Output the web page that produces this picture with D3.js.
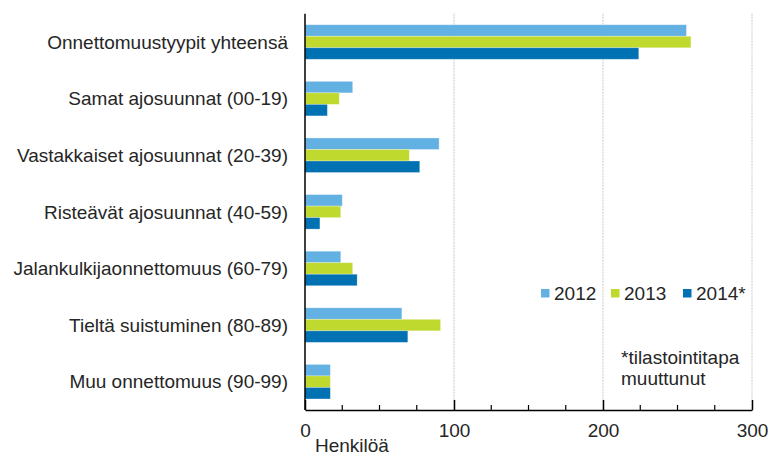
<!DOCTYPE html>
<html><head><meta charset="utf-8">
<script src="https://cdn.jsdelivr.net/npm/d3@7"></script>
<style>body{margin:0;background:#fff}text{font-family:"Liberation Sans",Arial,sans-serif;}</style>
</head><body>
<svg id="c" width="771" height="457"></svg>
<script>
const categories = ["Onnettomuustyypit yhteensä","Samat ajosuunnat (00-19)","Vastakkaiset ajosuunnat (20-39)","Risteävät ajosuunnat (40-59)","Jalankulkijaonnettomuus (60-79)","Tieltä suistuminen (80-89)","Muu onnettomuus (90-99)"];
const seriesNames = ["2012","2013","2014*"];
const values2012 = [256,32,90,25,24,65,17];
const values2013 = [259,23,70,24,32,91,17];
const values2014 = [224,15,77,10,35,69,17];
const xTicks = [0,100,200,300];
const colors = ["#63b1e3","#c0d92f","#0071b2"];

(function(){
const svg = d3.select("#c");
const pL=305, pR=752, pT=13.7, pB=410;
const fs = 19, tc = "#262626";
const x = d3.scaleLinear().domain([0,300]).range([pL,pR]);
const y = d3.scaleBand().domain(categories).range([pT,pB]).paddingInner(0.39).paddingOuter(0.195);
const ySub = d3.scaleBand().domain(seriesNames).range([0,y.bandwidth()]);
const series = [values2012,values2013,values2014];

// gridlines
svg.append("g").selectAll("line").data(xTicks.filter(d=>d>0)).join("line")
  .attr("x1",d=>x(d)).attr("x2",d=>x(d)).attr("y1",pT).attr("y2",pB)
  .attr("stroke","#c8c8c8").attr("stroke-dasharray","2,1");

// bars
series.forEach((vals,si)=>{
  svg.append("g").selectAll("rect").data(categories).join("rect")
    .attr("x",x(0)).attr("y",d=>y(d)+ySub(seriesNames[si]))
    .attr("width",(d,i)=>x(vals[i])-x(0)).attr("height",ySub.bandwidth())
    .attr("fill",colors[si]).attr("stroke","#ffffff").attr("stroke-opacity",0.35).attr("stroke-width",0.8);
});

// x axis
const xAxis = d3.axisBottom(x).tickValues(xTicks).tickSize(-10).tickFormat(d3.format("d")).tickSizeOuter(0);
const gx = svg.append("g").attr("transform",`translate(0,${pB})`).call(xAxis);
gx.select(".domain").attr("stroke","#000").attr("stroke-width",1.5);
gx.selectAll(".tick line").attr("stroke","#000").attr("stroke-width",1.5);
gx.selectAll(".tick text").attr("y",14).attr("font-size",fs).attr("fill",tc).attr("font-family","Liberation Sans, Arial, sans-serif");
const minor = d3.range(25,300,25).filter(d=>d%100!==0);
svg.append("g").selectAll("line").data(minor).join("line")
  .attr("x1",d=>x(d)).attr("x2",d=>x(d)).attr("y1",pB-5).attr("y2",pB)
  .attr("stroke","#000").attr("stroke-width",1.2);

// y axis line
svg.append("line").attr("x1",pL).attr("x2",pL).attr("y1",pT).attr("y2",pB).attr("stroke","#000").attr("stroke-width",1.5);

// category labels
svg.append("g").selectAll("text").data(categories).join("text")
  .attr("x",288).attr("y",d=>y(d)+y.bandwidth()/2).attr("dy","0.35em")
  .attr("text-anchor","end").attr("font-size",fs).attr("fill",tc).text(d=>d);

// axis title
svg.append("text").attr("x",315).attr("y",452).attr("font-size",fs).attr("fill",tc).text("Henkilöä");

// legend
const legX = [541,611,683];
const leg = svg.append("g");
seriesNames.forEach((s,i)=>{
  leg.append("rect").attr("x",legX[i]).attr("y",289).attr("width",8.5).attr("height",8.5).attr("fill",colors[i]);
  leg.append("text").attr("x",legX[i]+13).attr("y",293.5).attr("dy","0.35em").attr("font-size",fs).attr("fill",tc).text(s);
});
svg.append("text").attr("x",621).attr("y",364).attr("font-size",fs).attr("fill",tc).text("*tilastointitapa");
svg.append("text").attr("x",621).attr("y",385).attr("font-size",fs).attr("fill",tc).text("muuttunut");
})();
</script>
</body></html>
